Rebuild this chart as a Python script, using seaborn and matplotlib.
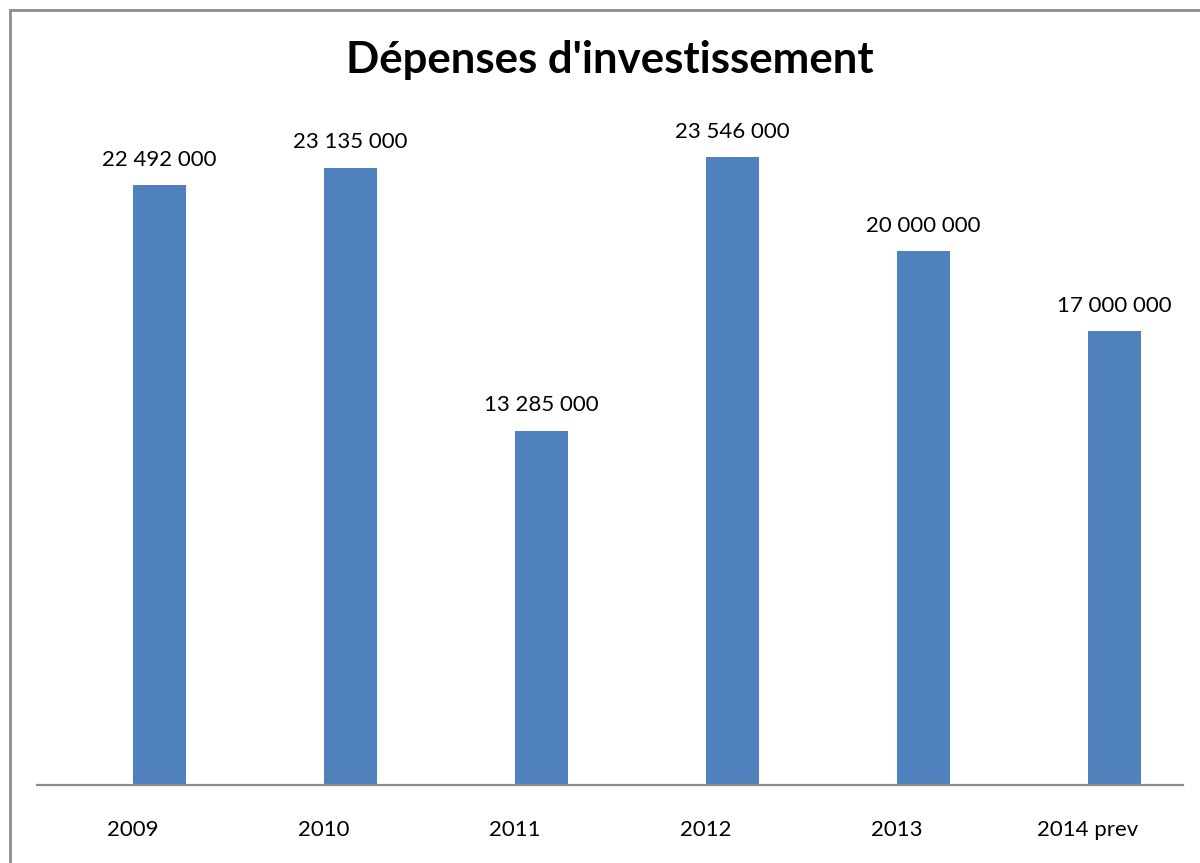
import matplotlib
matplotlib.use("Agg")
import matplotlib.pyplot as plt
import seaborn as sns
import pandas as pd
from matplotlib.patches import Rectangle

# ---- data ----
categories = ["2009", "2010", "2011", "2012", "2013", "2014 prev"]
depenses = [22492000, 23135000, 13285000, 23546000, 20000000, 17000000]
series_name = "Dépenses d'investissement"
empty_series = "vide"  # empty first series (reserves the left slot of each category)
title = "Dépenses d'investissement"

sns.set_theme(style="white")
plt.rcParams["font.family"] = ["Lato", "DejaVu Sans"]

df = pd.DataFrame({"annee": categories, "valeur": depenses, "serie": series_name})

fig = plt.figure(figsize=(12, 8.63), dpi=100)
W, H = 1200, 863
ax = fig.add_axes([37 / W, (H - 785) / H, 1146 / W, 667 / H])

sns.barplot(data=df, x="annee", y="valeur", hue="serie",
            hue_order=[empty_series, series_name], order=categories,
            palette={empty_series: "#4F81BD", series_name: "#4F81BD"},
            width=0.565, dodge=True, linewidth=0, saturation=1,
            errorbar=None, legend=False, ax=ax)

ax.set_xlim(-0.5, 5.5)
ax.set_ylim(0, 25000000)
ax.set_xlabel("")
ax.set_ylabel("")
ax.set_yticks([])
for s in ["top", "right", "left"]:
    ax.spines[s].set_visible(False)
ax.spines["bottom"].set_color("#8c8c8c")
ax.spines["bottom"].set_linewidth(1.6)
ax.tick_params(axis="x", length=0, pad=25, labelsize=16, colors="black")

for cont in ax.containers:
    if len(cont) and cont.datavalues is not None:
        labels = [f"{int(v):,}".replace(",", " ") if v == v else "" for v in cont.datavalues]
        ax.bar_label(cont, labels=labels, padding=11, fontsize=16, color="black")

fig.text(610 / W, 1 - 60 / H, title, ha="center", va="center",
         fontsize=31.5, fontweight="bold", color="black")

# outer chart border (extends past the right and bottom edges)
fig.patches.append(Rectangle((10 / W, -0.1), 1.2, (H - 10) / H + 0.1,
                             transform=fig.transFigure, fill=False,
                             edgecolor="#8c8c8c", linewidth=2))

fig.savefig("out.png", dpi=100, facecolor="white")
